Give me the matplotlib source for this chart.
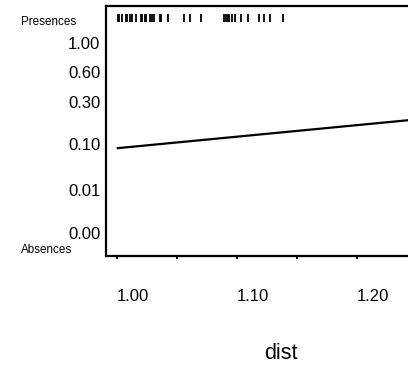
import matplotlib.pyplot as plt
import numpy as np

# y axis is drawn on the model's display scale (0 = absences, 1 = presences)
prob_labels = ['1.00', '0.60', '0.30', '0.10', '0.01', '0.00']
prob_pos = [0.852, 0.734, 0.614, 0.448, 0.264, 0.092]

# x ticks
x_ticks = [1.00, 1.05, 1.10, 1.15, 1.20, 1.25]
x_ticklabels = ['1.00', '', '1.10', '', '1.20', '']

# fitted response curve
fit_dist = [1.00, 1.26]
fit_resp = [0.431, 0.551]

# rug of presence records (dist)
presence_dist = [1.0007, 1.0023, 1.0044, 1.0078, 1.0090, 1.0111, 1.0128, 1.0161,
                 1.0203, 1.0215, 1.0232, 1.0244, 1.0278, 1.0294, 1.0315, 1.0361,
                 1.0369, 1.0428, 1.0561, 1.0611, 1.0703, 1.0894, 1.0907, 1.0928,
                 1.0940, 1.0961, 1.0990, 1.1036, 1.1094, 1.1186, 1.1228, 1.1278,
                 1.1382]

plt.rcParams['font.family'] = ['Liberation Sans', 'DejaVu Sans']

fig = plt.figure(figsize=(4.08, 3.70), dpi=100)
ax = fig.add_axes([106 / 408, 114 / 370, 330 / 408, 250 / 370])

ax.plot(fit_dist, fit_resp, color='black', lw=1.6, solid_capstyle='butt')
ax.vlines(presence_dist, 0.938, 0.968, color='black', lw=1.3)

ax.set_xlim(0.9911, 0.9911 + 330 / 1200)
ax.set_ylim(0, 1)

ax.set_xticks(x_ticks)
ax.set_xticklabels(x_ticklabels, fontsize=12)
for lab in ax.get_xticklabels():
    lab.set_horizontalalignment('left')
ax.tick_params(axis='x', direction='out', length=2.5, width=1.5, pad=21)

ax.set_yticks(prob_pos)
ax.set_yticklabels(prob_labels, fontsize=12)
ax.tick_params(axis='y', length=0, pad=4)

for s in ax.spines.values():
    s.set_linewidth(1.6)

ax.text(-0.258, 0.936, 'Presences', transform=ax.transAxes, fontsize=8.4,
        ha='left', va='center')
ax.text(-0.258, 0.024, 'Absences', transform=ax.transAxes, fontsize=8.4,
        ha='left', va='center')

ax.set_xlabel('dist', fontsize=15.5)
ax.xaxis.set_label_coords((281 - 106) / 330, -(343 - 256) / 250)

fig.savefig('out.png', dpi=100)
